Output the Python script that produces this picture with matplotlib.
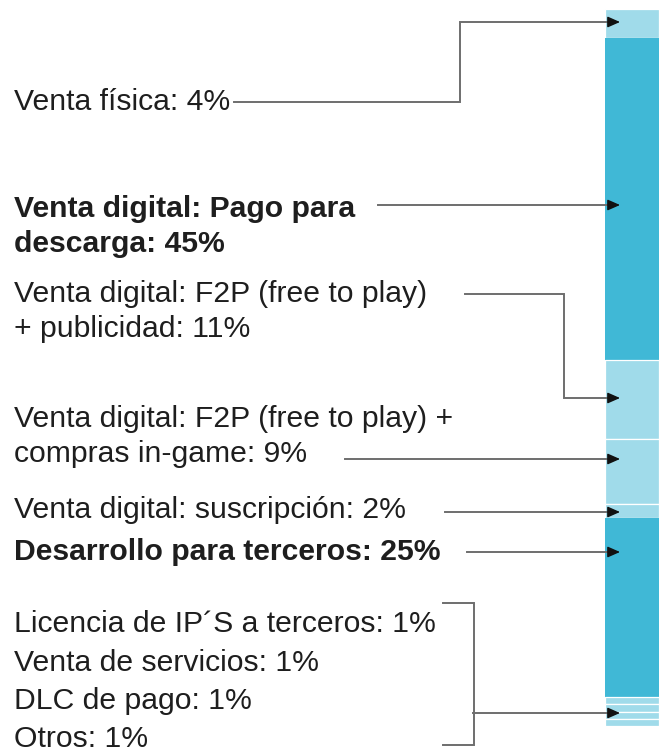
import numpy as np
import matplotlib.pyplot as plt

plt.rcParams["font.family"] = ["Liberation Sans", "DejaVu Sans"]

# data
categories = [
    "Venta física",
    "Venta digital: Pago para\ndescarga",
    "Venta digital: F2P (free to play)\n+ publicidad",
    "Venta digital: F2P (free to play) +\ncompras in-game",
    "Venta digital: suscripción",
    "Desarrollo para terceros",
    "Licencia de IP´S a terceros",
    "Venta de servicios",
    "DLC de pago",
    "Otros",
]
shares = [4, 45, 11, 9, 2, 25, 1, 1, 1, 1]
highlight = [False, True, False, False, False, True, False, False, False, False]

DARK = "#40b8d6"
LIGHT = "#a0dbea"
LINE = "#6e6e6e"
TXT = "#1e1e1e"

fig = plt.figure(figsize=(6.59, 7.53), dpi=100)

# stacked bar
bx = fig.add_axes([605 / 659, (753 - 726) / 753, 54 / 659, 717 / 753])
bottoms = np.concatenate([[0], np.cumsum(shares)[:-1]])
cols = [DARK if h else LIGHT for h in highlight]
for s, b, c, h in zip(shares, bottoms, cols, highlight):
    bx.bar(0, s, bottom=b, width=1, color=c,
           edgecolor="none" if h else "white", linewidth=0 if h else 0.9)
bx.set_xlim(-0.5, 0.5)
bx.set_ylim(100, 0)
bx.axis("off")

# overlay in pixel coords for labels and connectors (on top of the bar)
ax = fig.add_axes([0, 0, 1, 1])
ax.set_xlim(0, 659)
ax.set_ylim(753, 0)
ax.axis("off")
ax.set_zorder(5)
ax.patch.set_alpha(0)

# label baselines (px) and connector routes
baselines = [110, 217, 302, 427, 518, 560, 632, 671, 709, 747]
line_step = 35
for cat, s, y0, h in zip(categories, shares, baselines, highlight):
    lines = f"{cat}: {s}%".split("\n")
    for i, ln in enumerate(lines):
        ax.text(14, y0 + i * line_step, ln, fontsize=21.7, color=TXT,
                fontweight="bold" if h else "normal", va="baseline", ha="left")

TIP = 620
routes = [
    [(234, 102), (460, 102), (460, 22)],
    [(378, 205)],
    [(465, 294), (564, 294), (564, 398)],
    [(345, 459)],
    [(445, 512)],
    [(467, 552)],
    [(473, 713)],
]
for r in routes:
    y = r[-1][1]
    pts = r + [(TIP - 8, y)]
    ax.plot([p[0] for p in pts], [p[1] for p in pts], color=LINE, lw=1.4,
            solid_joinstyle="miter")
    ax.annotate("", xy=(TIP, y), xytext=(TIP - 10, y),
                arrowprops=dict(arrowstyle="-|>,head_length=0.5,head_width=0.22",
                                color="#111111", lw=1, mutation_scale=15,
                                shrinkA=0, shrinkB=0))

# bracket round the four small items
ax.plot([443, 474, 474, 443], [603, 603, 745, 745], color=LINE, lw=1.4,
        solid_joinstyle="miter")

fig.savefig("out.png", dpi=100)
